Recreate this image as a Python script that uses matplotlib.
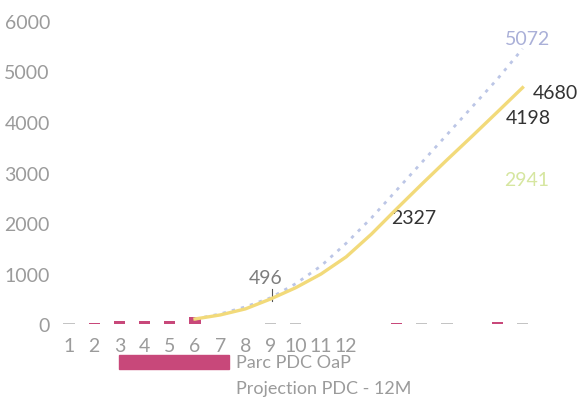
import numpy as np
import matplotlib
matplotlib.use("Agg")
import matplotlib.pyplot as plt
from matplotlib.patches import Rectangle

plt.rcParams['font.family'] = ['Lato', 'DejaVu Sans']

# ---- data ----
categories = list(range(1, 20))
tick_labels = [str(i) for i in range(1, 13)]
parc_oap = [0, 30, 60, 65, 70, 130, 0, 0, 0, 0, 0, 0, 0, 25, 0, 0, 0, 35, 0]
other_small = [15, 0, 0, 0, 0, 0, 0, 0, 15, 15, 0, 0, 0, 0, 15, 15, 0, 0, 15]
projection_12m = [np.nan] * 5 + [100, 180, 300, 496, 720, 990, 1330, 1780,
                                 2280, 2770, 3250, 3720, 4198, 4680]
projection_alt = [np.nan] * 5 + [100, 200, 340, 520, 800, 1150, 1600, 2100,
                                 2650, 3200, 3750, 4300, 4850, 5450]
labels = [("496", 8.82, 931, "#7d7d7d"),
          ("2327", 14.69, 2119, "#333333"),
          ("4198", 19.21, 4099, "#333333"),
          ("4680", 20.29, 4594, "#333333"),
          ("5072", 19.21, 5644, "#aab0d8"),
          ("2941", 19.17, 2871, "#d6e6a0")]

pink = "#c8487a"
gray = "#9b9b9b"

fig = plt.figure(figsize=(5.78, 4.02), dpi=100)
ax = fig.add_axes([0.0933, 0.1726, 0.8631, 0.8104])
ax.set_xlim(0.4, 20.2)
ax.set_ylim(-150, 6300)

ax.bar(categories, other_small, width=0.45, color="#c4c4c4", zorder=2)
ax.bar(categories, parc_oap, width=0.45, color=pink, zorder=3)
ax.plot(categories, projection_alt, color="#bcc6e6", lw=2.0, ls=(0, (1.2, 2.2)), zorder=4)
ax.plot(categories, projection_12m, color="#f2da7a", lw=2.4, zorder=5)

for t, x, y, c in labels:
    ax.text(x, y, t, color=c, fontsize=14, ha="center", va="center", clip_on=False)
ax.plot([9.05, 9.05], [460, 700], color="#555555", lw=0.8)

ax.set_yticks(range(0, 6001, 1000))
ax.set_xticks(range(1, 13))
ax.set_xticklabels(tick_labels)
ax.tick_params(axis="both", length=0, labelsize=14, labelcolor=gray)
ax.tick_params(axis="y", pad=2.9)
ax.tick_params(axis="x", pad=3.6)
for s in ax.spines.values():
    s.set_visible(False)

# legend
fig.add_artist(Rectangle((119/578, 1-370/402), 110/578, 14/402,
                         transform=fig.transFigure, color=pink))
fig.text(236/578, 1-363/402, "Parc PDC OaP", color=gray, fontsize=13, va="center")
fig.text(236/578, 1-389/402, "Projection PDC - 12M", color=gray, fontsize=13, va="center")

fig.savefig("out.png", dpi=100, facecolor="white")
